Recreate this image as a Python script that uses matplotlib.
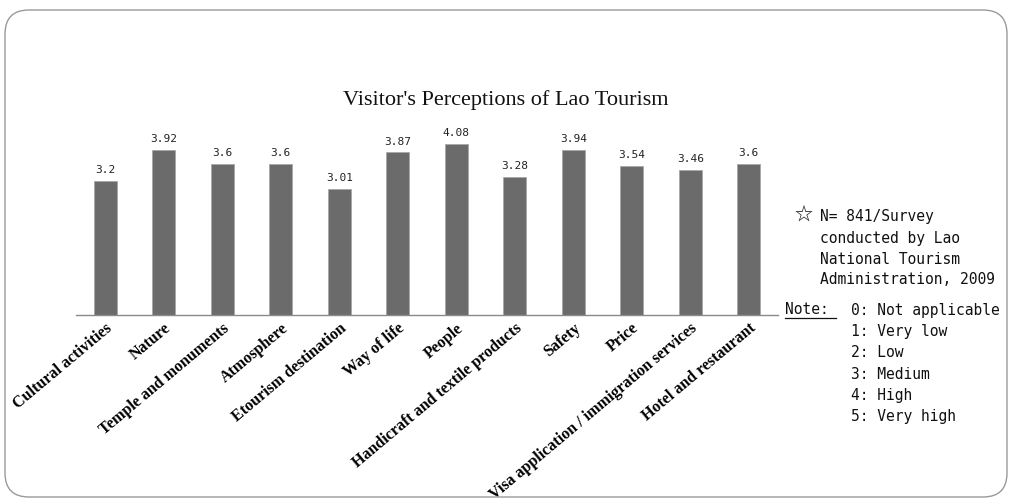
import matplotlib
matplotlib.use("Agg")
import matplotlib.pyplot as plt
from matplotlib.patches import FancyBboxPatch
from matplotlib.lines import Line2D
from matplotlib.transforms import IdentityTransform

categories = ["Cultural activities", "Nature", "Temple and monuments", "Atmosphere",
              "Etourism destination", "Way of life", "People",
              "Handicraft and textile products", "Safety", "Price",
              "Visa application / immigration services", "Hotel and restaurant"]
values = [3.2, 3.92, 3.6, 3.6, 3.01, 3.87, 4.08, 3.28, 3.94, 3.54, 3.46, 3.6]
value_labels = ["3.2", "3.92", "3.6", "3.6", "3.01", "3.87", "4.08", "3.28", "3.94", "3.54", "3.46", "3.6"]
title = "Visitor's Perceptions of Lao Tourism"
source_lines = ["N= 841/Survey", "conducted by Lao", "National Tourism", "Administration, 2009"]
note_lines = ["0: Not applicable", "1: Very low", "2: Low", "3: Medium", "4: High", "5: Very high"]

W, H = 1010, 502
fig = plt.figure(figsize=(W / 100, H / 100), dpi=100)
fig.patch.set_facecolor("white")

# rounded frame
frame = FancyBboxPatch((25, 24), W - 48, H - 55,
                       boxstyle="round,pad=20,rounding_size=24",
                       transform=IdentityTransform(), fill=False,
                       edgecolor="#9a9a9a", linewidth=1.0)
fig.add_artist(frame)

ax = fig.add_axes([76 / W, (H - 316) / H, 702 / W, 189 / H])
x = list(range(len(categories)))
bars = ax.bar(x, values, width=0.4, color="#6b6b6b", edgecolor="#a8a8a8", linewidth=0.6)
ax.set_xlim(-0.5, len(categories) - 0.5)
ax.set_ylim(0, 4.5)
for xi, v, lab in zip(x, values, value_labels):
    ax.annotate(lab, (xi, v), xytext=(0, 5), textcoords="offset points",
                ha="center", va="bottom", fontsize=8, family="DejaVu Sans Mono",
                color="#222222")
for s in ["top", "right", "left"]:
    ax.spines[s].set_visible(False)
ax.spines["bottom"].set_color("#8a8a8a")
ax.spines["bottom"].set_linewidth(1.0)
ax.set_yticks([])
ax.set_xticks(x)
ax.set_xticklabels(categories, rotation=40, ha="right", va="top", rotation_mode="anchor",
                   fontsize=11.5, family="Liberation Serif", fontweight="bold")
ax.tick_params(axis="x", length=0, pad=3)

fig.text(506 / W, 1 - 100 / H, title, ha="center", va="center",
         fontsize=16, family="Liberation Serif", color="#111111")

# source note
fig.text(803 / W, 1 - 216 / H, "\u2606", ha="center", va="center",
         fontsize=13, family=["Noto Sans CJK JP", "DejaVu Sans"], color="#111111")
for i, line in enumerate(source_lines):
    fig.text(820 / W, 1 - (217 + 21 * i) / H, line, ha="left", va="center",
             fontsize=10.5, family="DejaVu Sans Mono", color="#111111")

fig.text(785 / W, 1 - 310 / H, "Note:", ha="left", va="center",
         fontsize=10.5, family="DejaVu Sans Mono", color="#111111")
fig.add_artist(Line2D([785 / W, 836 / W], [1 - 319 / H, 1 - 319 / H],
                      transform=fig.transFigure, color="#111111", linewidth=0.9))
for i, line in enumerate(note_lines):
    fig.text(851 / W, 1 - (310 + 21.4 * i) / H, line, ha="left", va="center",
             fontsize=10.5, family="DejaVu Sans Mono", color="#111111")

fig.savefig("out.png", dpi=100, facecolor="white")
